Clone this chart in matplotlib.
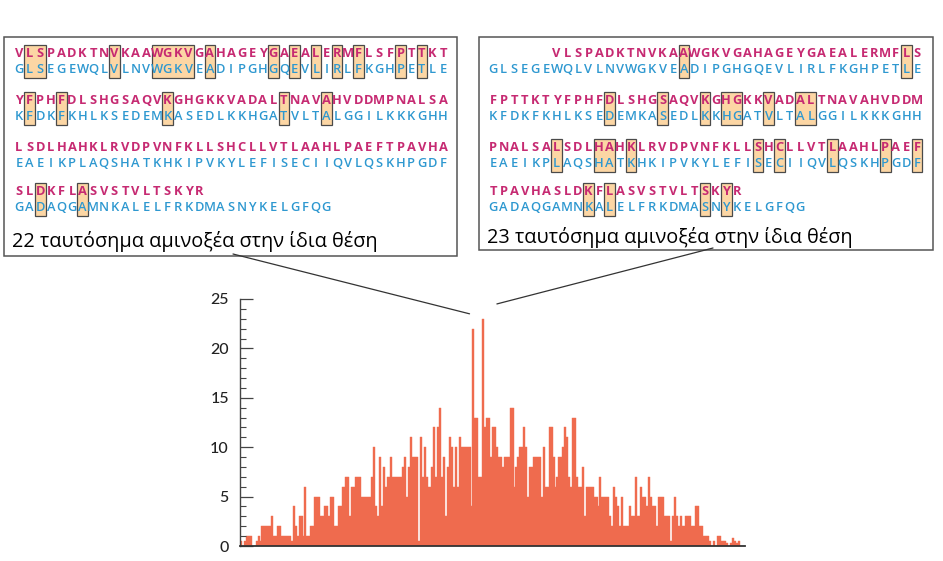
import matplotlib

matplotlib.use("Agg")
import matplotlib.pyplot as plt  # noqa: E402
from matplotlib.patches import ConnectionPatch, Rectangle  # noqa: E402
from matplotlib.ticker import MultipleLocator  # noqa: E402

# ---------------------------------------------------------------------------
# Data
# ---------------------------------------------------------------------------
# sequences as shown in the two alignment panels
SEQ_TOP = ("VLSPADKTNVKAAWGKVGAHAGEYGAEALERMFLSFPTTKT"
           "YFPHFDLSHGSAQVKGHGKKVADALTNAVAHVDDMPNALSA"
           "LSDLHAHKLRVDPVNFKLLSHCLLVTLAAHLPAEFTPAVHA"
           "SLDKFLASVSTVLTSKYR")
SEQ_BOTTOM = ("GLSEGEWQLVLNVWGKVEADIPGHGQEVLIRLFKGHPETLE"
              "KFDKFKHLKSEDEMKASEDLKKHGATVLTALGGILKKKGHH"
              "EAEIKPLAQSHATKHKIPVKYLEFISECIIQVLQSKHPGDF"
              "GADAQGAMNKALELFRKDMASNYKELGFQG")
SHIFTS = [0, 6]                      # offset of top sequence in each panel
LABELS = ["22 ταυτόσημα αμινοξέα στην ίδια θέση",
          "23 ταυτόσημα αμινοξέα στην ίδια θέση"]

# histogram: identical residues for every relative shift
counts_left = [0.5, 0, 0.5, 1, 1, 1, 0, 0, 0.5, 1, 0.5, 2, 2, 2, 2, 2, 3, 1, 1, 2, 2,
               1, 1, 1, 1, 1, 0.5, 4, 2, 1, 3, 3, 1, 6, 1, 1, 2, 2, 5, 5, 5, 3, 3, 4,
               4, 3, 5, 5, 2, 2, 4, 4, 6, 6, 7, 7, 3, 6, 6, 7, 7, 7, 5, 5, 5, 5, 5, 7,
               10, 4, 3, 9, 4, 8, 6, 7, 7, 9, 7, 7, 7, 7, 7, 8, 9, 5, 8, 11, 9, 9, 9,
               0.5, 11, 7, 10, 7, 6, 6, 8, 12, 7, 12, 14, 7, 9, 3, 8, 11, 10, 6, 10,
               6, 11, 10, 10, 10, 10, 10, 4]
peak_a = [22]
counts_mid = [13, 13, 7, 7]
peak_b = [23]
counts_right = [12, 13, 13, 9, 12, 12, 10, 9, 9, 8, 9, 9, 9, 14, 14, 6, 8, 9, 10, 10, 12,
                10, 5, 8, 8, 9, 9, 9, 9, 5, 10, 6, 6, 12, 12, 9, 6, 7, 9, 9, 10, 12, 11,
                7, 6, 13, 13, 7, 6, 6, 8, 3, 6, 6, 6, 6, 5, 5, 4, 7, 5, 5, 5, 5, 3, 2, 6,
                5, 4, 2, 5, 2, 2, 2, 4, 3, 3, 7, 3, 3, 6, 5, 5, 4, 7, 5, 4, 4, 2, 5, 5, 5,
                3, 3, 3, 0.5, 3, 5, 3, 2, 3, 2, 2, 3, 3, 3, 2, 2, 4, 4, 2, 2, 1, 1, 1, 0.5,
                0, 0.5, 0, 1, 1, 0.5, 0.5, 0.5, 0.3, 0, 0.3, 0.8, 0.5, 0.3, 0.5]

MAGENTA = "#c62a72"
BLUE = "#2e98d0"
BAR = "#ef6b4e"
HILITE = "#fcd6a4"
SEQ_FONT = ["Open Sans", "DejaVu Sans"]

W, H = 943, 561
fig = plt.figure(figsize=(W / 100, H / 100), dpi=100)

# overlay in pixel coordinates for the alignment panels
ov = fig.add_axes([0, 0, 1, 1])
ov.set_xlim(0, W)
ov.set_ylim(H, 0)
ov.axis("off")

PITCH = 10.6
ROW_COLS = 41
ROW_TOP = [53, 100, 147, 191]
ROW_BOT = [69, 116, 163, 207]
panels = [dict(x=4, w=453, h=219, x0=19, label_y=241),
          dict(x=479, w=454, h=213, x0=493, label_y=237)]


def draw_panel(p, shift, label):
    ov.add_patch(Rectangle((p["x"], 37), p["w"], p["h"], fill=False,
                           edgecolor="#555555", lw=1.1, zorder=1))
    top = " " * shift + SEQ_TOP
    n_rows = (max(len(top), len(SEQ_BOTTOM)) + ROW_COLS - 1) // ROW_COLS
    for r in range(n_rows):
        a = top[r * ROW_COLS:(r + 1) * ROW_COLS]
        b = SEQ_BOTTOM[r * ROW_COLS:(r + 1) * ROW_COLS]
        same = [i < len(a) and i < len(b) and a[i] == b[i] and a[i] != " "
                for i in range(ROW_COLS)]
        # merge adjacent identities into one box
        c = 0
        while c < ROW_COLS:
            if same[c]:
                e = c
                while e + 1 < ROW_COLS and same[e + 1]:
                    e += 1
                xl = p["x0"] + (c - 0.5) * PITCH
                ov.add_patch(Rectangle((xl, ROW_TOP[r] - 8.5), (e - c + 1) * PITCH,
                                       ROW_BOT[r] - ROW_TOP[r] + 17,
                                       facecolor=HILITE, edgecolor="#4a4a4a",
                                       lw=0.9, zorder=2))
                c = e + 1
            else:
                c += 1
        for i, ch in enumerate(a):
            if ch != " ":
                ov.text(p["x0"] + i * PITCH, ROW_TOP[r], ch, color=MAGENTA,
                        fontsize=9.3, fontweight="bold", ha="center", va="center",
                        family=SEQ_FONT, zorder=3)
        for i, ch in enumerate(b):
            ov.text(p["x0"] + i * PITCH, ROW_BOT[r], ch, color=BLUE,
                    fontsize=9.3, fontweight="semibold", ha="center", va="center",
                    family=SEQ_FONT, zorder=3)
    ov.text(p["x"] + 8, p["label_y"], label, fontsize=14.3, ha="left", va="center",
            family=SEQ_FONT, color="black", zorder=3)


for p, s, lab in zip(panels, SHIFTS, LABELS):
    draw_panel(p, s, lab)

# ---------------------------------------------------------------------------
# Histogram
# ---------------------------------------------------------------------------
counts = counts_left + peak_a + counts_mid + peak_b + counts_right
xs = list(range(len(counts)))
i_a = len(counts_left)
i_b = i_a + 1 + len(counts_mid)

ax = fig.add_axes([240 / W, 15 / H, 505 / W, 247 / H])
ax.set_facecolor("none")
ax.bar(xs, counts, width=1.0, color=BAR, edgecolor=BAR, linewidth=0.3)
ax.set_xlim(-0.5, len(counts) + 2)
ax.set_ylim(0, 25)
for side in ("top", "right"):
    ax.spines[side].set_visible(False)
ax.spines["left"].set_color("#444444")
ax.spines["left"].set_linewidth(1.0)
ax.spines["bottom"].set_color("#333333")
ax.spines["bottom"].set_linewidth(1.3)
ax.set_xticks([])
ax.yaxis.set_major_locator(MultipleLocator(5))
ax.yaxis.set_minor_locator(MultipleLocator(1))
ax.tick_params(axis="y", which="major", direction="in", length=9, width=0.9,
               color="#444444", labelsize=11.5, labelcolor="#222222", pad=8)
ax.tick_params(axis="y", which="minor", direction="in", length=4, width=0.8,
               color="#444444")
for t in ax.get_yticklabels():
    t.set_family(["Lato", "DejaVu Sans"])
    t.set_fontweight("medium")

# pointer lines from the panel labels to the two peaks
for start, target in [((233, 254), (i_a - 2, 23.5)), ((713, 248), (i_b + 7, 24.5))]:
    fig.add_artist(ConnectionPatch(xyA=start, coordsA=ov.transData,
                                   xyB=target, coordsB=ax.transData,
                                   color="#333333", lw=0.9))

fig.savefig("out.png", dpi=100)
